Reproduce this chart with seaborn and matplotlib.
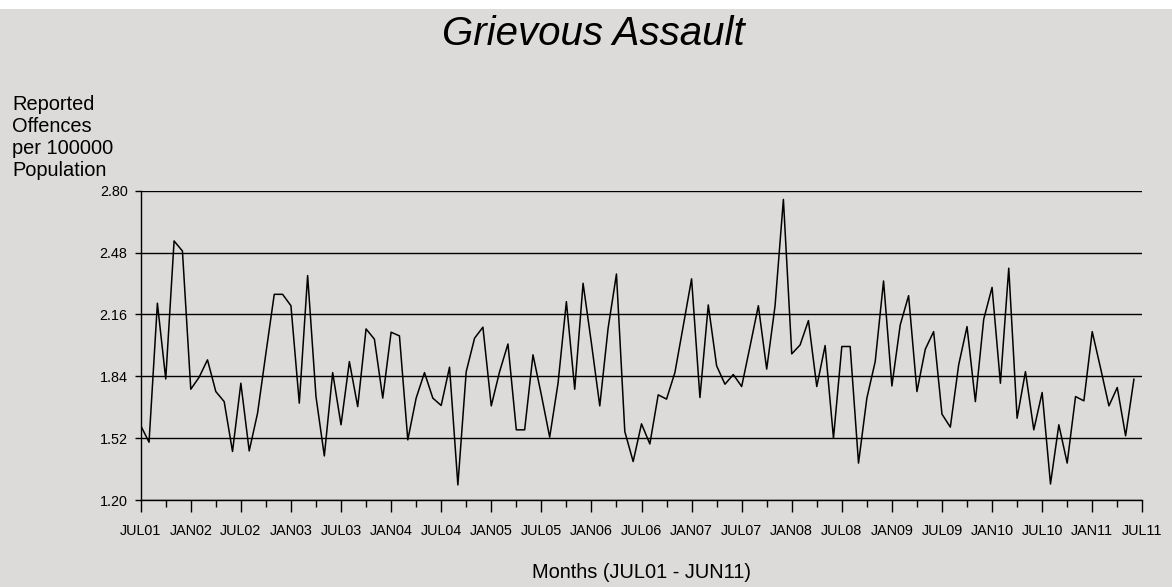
import numpy as np
import matplotlib
matplotlib.use("Agg")
import matplotlib.pyplot as plt
import seaborn as sns
import pandas as pd
from matplotlib.ticker import FixedLocator, FuncFormatter

# ---- data ----
values = [
    1.585, 1.499, 2.218, 1.826, 2.540, 2.488, 1.773, 1.835, 1.925, 1.761, 1.709, 1.451,
    1.804, 1.454, 1.649, 1.959, 2.264, 2.264, 2.205, 1.701, 2.361, 1.735, 1.428, 1.859,
    1.589, 1.916, 1.683, 2.085, 2.032, 1.727, 2.068, 2.049, 1.511, 1.727, 1.859, 1.727,
    1.689, 1.887, 1.278, 1.864, 2.037, 2.094, 1.687, 1.864, 2.007, 1.563, 1.563, 1.951,
    1.744, 1.525, 1.804, 2.226, 1.773, 2.321, 2.011, 1.687, 2.089, 2.369, 1.554, 1.399,
    1.594, 1.490, 1.744, 1.722, 1.859, 2.100, 2.344, 1.730, 2.209, 1.894, 1.799, 1.849,
    1.787, 1.994, 2.205, 1.877, 2.204, 2.755, 1.956, 2.002, 2.128, 1.787, 1.999, 1.520,
    1.994, 1.994, 1.391, 1.727, 1.916, 2.333, 1.790, 2.106, 2.257, 1.761, 1.980, 2.071,
    1.644, 1.577, 1.899, 2.097, 1.709, 2.135, 2.300, 1.804, 2.399, 1.623, 1.864, 1.563,
    1.756, 1.283, 1.589, 1.391, 1.735, 1.713, 2.071, 1.882, 1.687, 1.782, 1.532, 1.826,
]
month_index = list(range(len(values)))
xtick_labels = ["JUL01", "JAN02", "JUL02", "JAN03", "JUL03", "JAN04", "JUL04",
                "JAN05", "JUL05", "JAN06", "JUL06", "JAN07", "JUL07", "JAN08",
                "JUL08", "JAN09", "JUL09", "JAN10", "JUL10", "JAN11", "JUL11"]
yticks = [1.20, 1.52, 1.84, 2.16, 2.48, 2.80]

title = "Grievous Assault"
ylabel = "Reported\nOffences\nper 100000\nPopulation"
xlabel = "Months (JUL01 - JUN11)"

df = pd.DataFrame({"month": month_index, "value": values})

# ---- style ----
BG = "#dcdbda"
sns.set_style("white")
plt.rcParams["font.family"] = ["Liberation Sans", "DejaVu Sans"]
plt.rcParams["text.color"] = "black"
plt.rcParams["xtick.color"] = "black"
plt.rcParams["ytick.color"] = "black"
plt.rcParams["xtick.labelcolor"] = "black"
plt.rcParams["ytick.labelcolor"] = "black"

W, H = 1172, 587
fig = plt.figure(figsize=(W / 100, H / 100), dpi=100, facecolor=BG)
# white strip at top
fig.patches.append(plt.Rectangle((0, 1 - 9 / H), 1, 9 / H, transform=fig.transFigure,
                                 facecolor="white", edgecolor="none", zorder=0))

left, right, top, bottom = 140.7, 1142.3, 190.7, 500.0
ax = fig.add_axes([left / W, 1 - bottom / H, (right - left) / W, (bottom - top) / H])
ax.set_facecolor(BG)

sns.lineplot(data=df, x="month", y="value", ax=ax, color="black", linewidth=1.1)

ax.set_xlim(0, 120)
ax.set_ylim(1.20, 2.80)
ax.set_yticks(yticks)
ax.yaxis.set_major_formatter(FuncFormatter(lambda v, p: f"{v:.2f}"))
ax.set_xticks(list(range(0, 121, 6)))
ax.set_xticklabels(xtick_labels)
ax.xaxis.set_minor_locator(FixedLocator(list(range(3, 120, 6))))

ax.grid(True, axis="y", color="black", linewidth=1.0)
ax.set_axisbelow(True)
for s in ["top", "right"]:
    ax.spines[s].set_visible(False)
for s in ["left", "bottom"]:
    ax.spines[s].set_color("black")
    ax.spines[s].set_linewidth(1.0)

ax.tick_params(axis="x", which="major", length=8.8, width=1.0, color="black",
               labelsize=10.4, pad=8.5, bottom=True, labelcolor="black")
ax.tick_params(axis="x", which="minor", length=4.8, width=1.0, color="black", bottom=True)
ax.tick_params(axis="y", which="major", length=4.5, width=1.0, color="black",
               labelsize=10.4, pad=5, left=True, labelcolor="black")
ax.set_xlabel("")
ax.set_ylabel("")

fig.text(593 / W, 1 - 45 / H, title, ha="center", va="baseline",
         fontsize=29, style="italic", color="black")
fig.text(641.5 / W, 1 - 578 / H, xlabel, ha="center", va="baseline", fontsize=14.4,
         color="black")
fig.text(12 / W, 1 - 175.7 / H, ylabel, ha="left", va="baseline", fontsize=14.4,
         linespacing=1.2, color="black")

fig.savefig("out.png", dpi=100, facecolor=BG)
